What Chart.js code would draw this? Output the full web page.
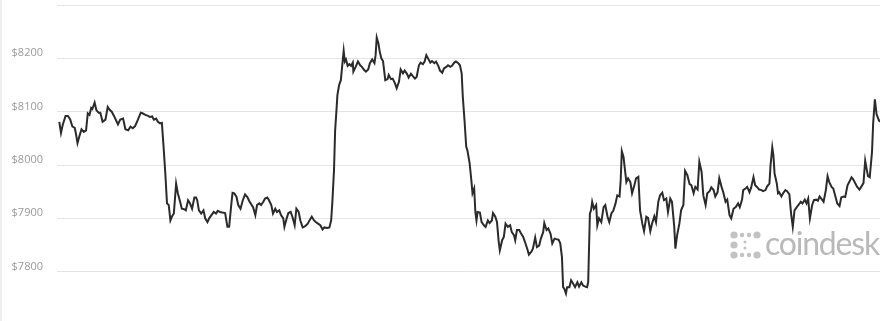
<!DOCTYPE html>
<html>
<head>
<meta charset="utf-8">
<script src="https://cdn.jsdelivr.net/npm/chart.js@4"></script>
<style>
  html, body { margin: 0; padding: 0; background: #fff; overflow: hidden; }
  #wrap { position: relative; width: 890px; height: 325px; }
  #edge { position: absolute; left: 0; top: 0; width: 2px; height: 325px; background: #efefef; }
  #logo { position: absolute; left: 730px; top: 231px; }
  #word { position: absolute; left: 765px; top: 223px; color: #b9b9b9; font-family: Lato, sans-serif; font-size: 32px; line-height: 40px; letter-spacing: -1.2px; white-space: nowrap; }
</style>
</head>
<body>
<div id="wrap">
  <canvas id="c" width="890" height="325"></canvas>
  <div id="edge"></div>
  <svg id="logo" width="31" height="28" viewBox="0 0 31 28">
    <g fill="#c2c2c2">
      <circle cx="4" cy="4" r="3.6"/><circle cx="12" cy="4" r="2.2"/><circle cx="19" cy="4" r="2.2"/><circle cx="27" cy="4" r="3.6"/>
      <circle cx="4" cy="14" r="3.6"/><circle cx="15" cy="11" r="1.5"/><circle cx="15" cy="17" r="1.5"/>
      <circle cx="4" cy="24" r="3.6"/><circle cx="12" cy="24" r="2.2"/><circle cx="19" cy="24" r="2.2"/><circle cx="27" cy="24" r="3.6"/>
    </g>
  </svg>
  <div id="word">coindesk</div>
</div>
<script>
// minutes since start of the 24h window
const times = [
  0, 3, 6, 11, 15, 19, 23, 27, 29, 32, 35, 39, 43, 47, 50, 53, 56, 58, 62, 65, 69, 72, 76, 81, 85, 88, 92, 96, 100, 103,
  107, 112, 116, 121, 125, 129, 133, 138, 143, 146, 151, 156, 159, 163, 166, 170, 173, 177, 180, 183, 186, 189, 192, 195, 198, 201, 205, 208, 212, 215,
  219, 222, 226, 229, 233, 237, 240, 242, 245, 249, 253, 256, 260, 263, 267, 271, 275, 278, 282, 286, 291, 295, 298, 302, 304, 307, 311, 314, 318, 322,
  326, 330, 333, 337, 340, 344, 347, 351, 354, 358, 361, 365, 368, 372, 375, 379, 382, 386, 389, 393, 395, 399, 402, 406, 409, 413, 416, 420, 423, 427,
  431, 436, 440, 443, 447, 450, 454, 458, 462, 465, 470, 474, 477, 479, 482, 484, 486, 488, 491, 494, 496, 499, 501, 503, 506, 509, 512, 515, 516, 520,
  524, 528, 531, 535, 538, 542, 545, 549, 553, 555, 557, 560, 562, 565, 568, 572, 576, 578, 582, 585, 589, 592, 596, 599, 603, 606, 610, 613, 617, 620,
  624, 627, 631, 634, 638, 641, 644, 648, 651, 654, 658, 661, 665, 668, 672, 675, 679, 682, 686, 689, 693, 696, 700, 703, 706, 708, 711, 714, 716, 720,
  723, 725, 728, 730, 732, 734, 738, 741, 745, 748, 752, 755, 759, 761, 765, 768, 771, 773, 777, 780, 783, 787, 791, 794, 798, 800, 803, 807, 810, 814,
  817, 821, 824, 828, 831, 835, 838, 842, 845, 849, 851, 855, 858, 862, 865, 869, 872, 876, 879, 882, 884, 886, 889, 891, 895, 898, 902, 905, 909, 912,
  916, 919, 923, 926, 928, 931, 933, 935, 938, 942, 944, 947, 951, 955, 958, 962, 965, 969, 972, 976, 979, 983, 985, 987, 990, 992, 995, 998, 1002, 1005,
  1009, 1012, 1016, 1019, 1023, 1026, 1030, 1033, 1037, 1040, 1044, 1047, 1051, 1054, 1058, 1061, 1065, 1068, 1072, 1075, 1079, 1081, 1084, 1088, 1091, 1095, 1098, 1102, 1106, 1109,
  1113, 1116, 1120, 1123, 1127, 1130, 1134, 1137, 1141, 1144, 1148, 1151, 1155, 1158, 1162, 1165, 1169, 1172, 1176, 1179, 1183, 1187, 1191, 1194, 1198, 1200, 1204, 1207, 1211, 1214,
  1218, 1221, 1225, 1228, 1232, 1235, 1239, 1242, 1246, 1248, 1251, 1253, 1255, 1259, 1261, 1263, 1267, 1270, 1274, 1277, 1281, 1284, 1287, 1290, 1294, 1297, 1301, 1304, 1308, 1311,
  1314, 1317, 1321, 1324, 1328, 1331, 1334, 1337, 1341, 1345, 1348, 1351, 1355, 1358, 1362, 1365, 1369, 1372, 1376, 1379, 1383, 1386, 1390, 1393, 1397, 1400, 1404, 1407, 1411, 1414,
  1417, 1419, 1422, 1426, 1428, 1431, 1434, 1438, 1440
];

// BTC price, USD
const prices = [
  8081, 8060, 8075, 8092, 8092, 8086, 8072, 8070, 8060, 8041, 8053, 8067, 8062, 8065, 8097, 8094, 8107, 8105, 8117, 8103, 8098, 8098, 8081, 8085, 8109, 8104, 8100, 8092, 8083, 8076,
  8085, 8087, 8067, 8065, 8072, 8069, 8073, 8085, 8098, 8097, 8094, 8092, 8090, 8091, 8085, 8087, 8081, 8078, 8079, 8034, 7985, 7928, 7925, 7896, 7904, 7909, 7965, 7947, 7931, 7918,
  7917, 7915, 7934, 7929, 7918, 7939, 7939, 7934, 7915, 7909, 7915, 7900, 7893, 7900, 7906, 7912, 7909, 7914, 7912, 7911, 7910, 7884, 7884, 7928, 7948, 7947, 7940, 7925, 7918, 7934,
  7945, 7940, 7933, 7926, 7921, 7906, 7925, 7928, 7925, 7931, 7937, 7939, 7934, 7925, 7909, 7918, 7912, 7915, 7906, 7900, 7884, 7900, 7910, 7912, 7903, 7887, 7918, 7912, 7896, 7883,
  7885, 7890, 7898, 7903, 7896, 7893, 7890, 7887, 7879, 7883, 7882, 7883, 7896, 7928, 7990, 8065, 8097, 8131, 8150, 8159, 8181, 8214, 8194, 8198, 8186, 8189, 8186, 8192, 8175, 8184,
  8194, 8187, 8184, 8178, 8175, 8179, 8191, 8198, 8191, 8206, 8239, 8228, 8214, 8200, 8195, 8159, 8161, 8169, 8161, 8162, 8153, 8144, 8156, 8179, 8172, 8177, 8171, 8164, 8171, 8167,
  8162, 8165, 8187, 8192, 8189, 8194, 8206, 8198, 8192, 8195, 8191, 8194, 8186, 8177, 8173, 8181, 8184, 8187, 8184, 8186, 8192, 8194, 8191, 8187, 8172, 8128, 8084, 8034, 8028, 8003,
  7971, 7947, 7956, 7912, 7896, 7912, 7911, 7893, 7887, 7884, 7896, 7891, 7896, 7910, 7903, 7893, 7856, 7840, 7859, 7865, 7890, 7884, 7887, 7874, 7868, 7859, 7878, 7878, 7872, 7865,
  7856, 7843, 7832, 7837, 7843, 7864, 7846, 7849, 7862, 7874, 7891, 7878, 7881, 7871, 7853, 7862, 7861, 7860, 7853, 7827, 7771, 7768, 7759, 7771, 7771, 7784, 7777, 7771, 7780, 7772,
  7780, 7774, 7772, 7771, 7780, 7909, 7915, 7931, 7918, 7925, 7887, 7900, 7893, 7921, 7925, 7903, 7893, 7910, 7914, 7928, 7943, 7941, 7971, 8026, 8015, 7996, 7968, 7975, 7968, 7947,
  7962, 7975, 7978, 7915, 7890, 7876, 7903, 7901, 7876, 7890, 7904, 7893, 7931, 7943, 7948, 7934, 7937, 7912, 7937, 7931, 7884, 7843, 7868, 7890, 7915, 7925, 7989, 7981, 7964, 7962,
  7947, 7959, 7954, 8006, 7987, 7943, 7925, 7947, 7951, 7958, 7953, 7941, 7949, 7975, 7959, 7949, 7931, 7935, 7906, 7900, 7918, 7921, 7928, 7921, 7935, 7953, 7956, 7959, 7949, 7958,
  7977, 7962, 7958, 7954, 7953, 7951, 7953, 7960, 7965, 8000, 8033, 8018, 7984, 7965, 7947, 7949, 7941, 7947, 7953, 7951, 7945, 7909, 7884, 7915, 7921, 7925, 7931, 7928, 7935, 7928,
  7937, 7900, 7925, 7934, 7935, 7933, 7941, 7937, 7931, 7953, 7979, 7968, 7959, 7956, 7940, 7928, 7923, 7939, 7941, 7940, 7962, 7968, 7977, 7973, 7965, 7959, 7954, 7959, 7966, 8008,
  7990, 7979, 7977, 8025, 8078, 8123, 8095, 8084, 8081
];

const yTicks = [7700, 7800, 7900, 8000, 8100, 8200, 8300];
const shownTicks = ["$7800", "$7900", "$8000", "$8100", "$8200"];

const points = times.map((t, i) => ({ x: t, y: prices[i] }));

new Chart(document.getElementById("c"), {
  type: "line",
  data: {
    datasets: [{
      data: points,
      borderColor: "#2b2b2b",
      borderWidth: 2,
      pointRadius: 0,
      tension: 0,
      fill: false
    }]
  },
  options: {
    responsive: false,
    animation: false,
    events: [],
    layout: { padding: { top: 5, right: 10, bottom: 0, left: 0 } },
    plugins: { legend: { display: false }, tooltip: { enabled: false } },
    scales: {
      x: {
        type: "linear",
        min: -4,
        max: 1440,
        display: false
      },
      y: {
        min: yTicks[0],
        max: yTicks[yTicks.length - 1],
        afterBuildTicks: s => { s.ticks = yTicks.map(v => ({ value: v })); },
        afterFit: s => {
          s.width = 57;
          s.paddingTop = 0;
          s.paddingBottom = 0;
        },
        border: { display: false },
        grid: { color: "#e4e4e4", lineWidth: 1, drawTicks: false },
        ticks: {
          padding: 14,
          labelOffset: -5,
          color: "#9a9a9a",
          font: { family: "'Open Sans', sans-serif", size: 11 },
          callback: v => {
            const lbl = "$" + v;
            return shownTicks.includes(lbl) ? lbl : "";
          }
        }
      }
    }
  }
});
</script>
</body>
</html>
